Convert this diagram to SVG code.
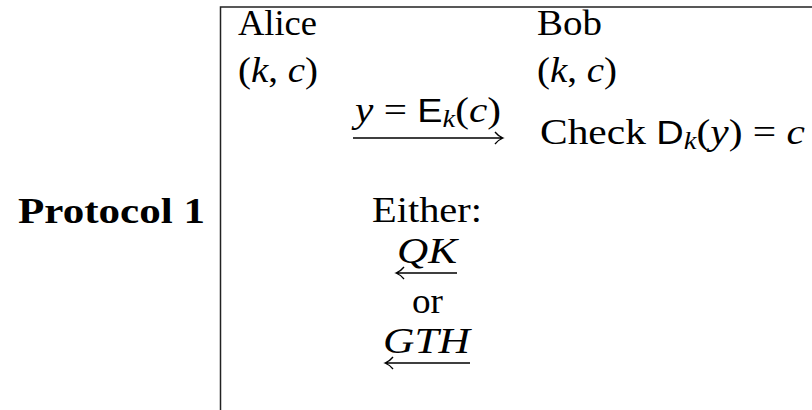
<svg xmlns="http://www.w3.org/2000/svg" width="812" height="410" viewBox="0 0 812 410">
<style>
text{font-family:"Liberation Serif","DejaVu Serif",serif;font-size:36px;fill:#000}
.it{font-style:italic}
.sf{font-family:"Liberation Sans","DejaVu Sans",sans-serif;font-size:33px}
.sub{font-size:25px}
.b{font-weight:bold}
.rule{stroke:#222;stroke-width:1.5;fill:none}
.arr{stroke:#000;stroke-width:1.3;fill:none}
</style>
<rect width="812" height="410" fill="#fff"/>
<g id="frame">
<path class="rule" d="M220.5,410 V7 H812"/>
</g>
<g id="label"><text class="b" x="205" y="223" text-anchor="end" textLength="187" lengthAdjust="spacingAndGlyphs">Protocol 1</text></g>
<g id="alice">
<text x="238" y="35" textLength="79" lengthAdjust="spacingAndGlyphs">Alice</text>
<text x="238" y="82" textLength="80" lengthAdjust="spacingAndGlyphs">(<tspan class="it">k</tspan>, <tspan class="it">c</tspan>)</text>
</g>
<g id="bob">
<text x="537" y="35" textLength="65" lengthAdjust="spacingAndGlyphs">Bob</text>
<text x="537" y="82" textLength="80" lengthAdjust="spacingAndGlyphs">(<tspan class="it">k</tspan>, <tspan class="it">c</tspan>)</text>
<text x="540" y="144" textLength="265" lengthAdjust="spacingAndGlyphs">Check <tspan class="sf">D</tspan><tspan class="it sub" dy="5">k</tspan><tspan dy="-5">(</tspan><tspan class="it">y</tspan>) = <tspan class="it">c</tspan></text>
</g>
<g id="msg1">
<text x="355" y="122" textLength="146" lengthAdjust="spacingAndGlyphs"><tspan class="it">y</tspan> = <tspan class="sf">E</tspan><tspan class="it sub" dy="5">k</tspan><tspan dy="-5">(</tspan><tspan class="it">c</tspan>)</text>
</g>
<g id="reply">
<text x="372" y="222" textLength="110" lengthAdjust="spacingAndGlyphs">Either:</text>
<text class="it" x="397" y="263" textLength="60" lengthAdjust="spacingAndGlyphs">QK</text>
<text x="412" y="313" textLength="31" lengthAdjust="spacingAndGlyphs">or</text>
<text class="it" x="383" y="353" textLength="87" lengthAdjust="spacingAndGlyphs">GTH</text>
</g>
<g id="connectors">
<path class="arr" d="M353,138 H502 M495,132 Q498,136 503,138 Q498,140 495,144"/>
<path class="arr" d="M397,273 H457 M404,267 Q401,271 396,273 Q401,275 404,279"/>
<path class="arr" d="M386,363 H470 M393,357 Q390,361 385,363 Q390,365 393,369"/>
</g>
</svg>
